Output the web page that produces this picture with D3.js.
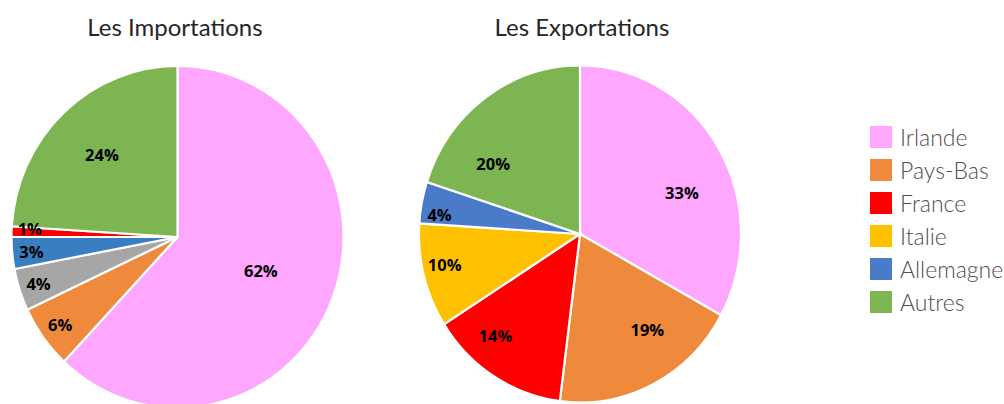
<!DOCTYPE html>
<html>
<head>
<meta charset="utf-8">
<script src="https://cdn.jsdelivr.net/npm/d3@7"></script>
<style>
  html, body { margin: 0; padding: 0; background: #fff; }
  svg { display: block; }
</style>
</head>
<body>
<svg id="chart" width="1004" height="404"></svg>
<script>
// Trade partner shares (percent)
const importCountries = ["Irlande", "Pays-Bas", "Belgique", "Allemagne", "France", "Autres"];
const importValues    = [62, 6, 4, 3, 1, 24];
const importColors    = ["#ffa6ff", "#ef8a3c", "#a6a6a6", "#3a7ec2", "#ff0000", "#7cb552"];

const exportCountries = ["Irlande", "Pays-Bas", "France", "Italie", "Allemagne", "Autres"];
const exportValues    = [33, 19, 14, 10, 4, 20];
const exportColors    = ["#ffa6ff", "#ef8a3c", "#ff0000", "#ffc000", "#4a7bc8", "#7cb552"];

const legendNames  = ["Irlande", "Pays-Bas", "France", "Italie", "Allemagne", "Autres"];
const legendColors = ["#ffa6ff", "#ef8a3c", "#ff0000", "#ffc000", "#4a7bc8", "#7cb552"];

const titles = ["Les Importations", "Les Exportations"];

const svg = d3.select("#chart");

// label distance from the centre, as a fraction of the radius, by slice share
const labelRadius = d3.scaleLinear()
  .domain([0.01, 0.10, 0.16, 0.21, 0.33, 0.62])
  .range([0.89, 0.86, 0.77, 0.66, 0.68, 0.54])
  .clamp(true);

const LABEL_GAP = 23; // minimum vertical spacing between neighbouring labels

function drawPie(cfg) {
  const { cx, cy, rx, ry, values, colors, names, title, titleX, pull } = cfg;
  const total = d3.sum(values);
  const pie = d3.pie().sort(null).value(d => d)(values);
  const arc = d3.arc().innerRadius(0).outerRadius(rx);

  // label angle: slice middle, nudged toward the horizontal
  const labelAngle = d => {
    let a = (d.startAngle + d.endAngle) / 2;
    const target = Math.sin(a) >= 0 ? Math.PI / 2 : 3 * Math.PI / 2;
    const k = Math.cos(a) > 0 ? pull : pull / 2;
    return a + k * (target - a);
  };

  const labels = pie.map(d => {
    const a = labelAngle(d), r = labelRadius(d.value / total);
    return { d, x: cx + r * rx * Math.sin(a), y: cy - r * ry * Math.cos(a) };
  });

  // keep neighbouring labels apart: the smaller slice's label gives way
  for (let i = 0; i < labels.length; i++) {
    const a = labels[i], b = labels[(i + 1) % labels.length];
    if (Math.abs(a.x - b.x) < 30 && Math.abs(a.y - b.y) < LABEL_GAP) {
      const [small, big] = a.d.value < b.d.value ? [a, b] : [b, a];
      small.y = big.y + (small.y < big.y ? -LABEL_GAP : LABEL_GAP);
    }
  }

  const g = svg.append("g")
    .attr("transform", `translate(${cx},${cy}) scale(1,${ry / rx})`);

  g.selectAll("path")
    .data(pie)
    .join("path")
    .attr("d", arc)
    .attr("fill", (d, i) => colors[i])
    .attr("stroke", "#fff")
    .attr("stroke-width", 2.2)
    .attr("vector-effect", "non-scaling-stroke")
    .append("title").text((d, i) => `${names[i]} : ${values[i]}%`);

  svg.append("g").selectAll("text")
    .data(labels)
    .join("text")
    .attr("x", l => l.x)
    .attr("y", l => l.y)
    .attr("text-anchor", "middle")
    .attr("dominant-baseline", "central")
    .attr("font-family", "'Open Sans', 'Liberation Sans', sans-serif")
    .attr("font-weight", 700)
    .attr("font-size", 16.5)
    .attr("fill", "#000")
    .text(l => `${l.d.value}%`);

  svg.append("text")
    .attr("x", titleX)
    .attr("y", 36)
    .attr("text-anchor", "middle")
    .attr("font-family", "Lato, 'Open Sans', sans-serif")
    .attr("font-size", 24)
    .attr("fill", "#262626")
    .text(title);
}

drawPie({
  cx: 177.5, cy: 237, rx: 166, ry: 171,
  values: importValues, colors: importColors, names: importCountries,
  title: titles[0], titleX: 175, pull: 0
});

drawPie({
  cx: 580, cy: 234, rx: 161, ry: 168.5,
  values: exportValues, colors: exportColors, names: exportCountries,
  title: titles[1], titleX: 582, pull: 0.3
});

// Legend
const legend = svg.append("g").attr("transform", "translate(870,126)");
const rows = legend.selectAll("g")
  .data(legendNames)
  .join("g")
  .attr("transform", (d, i) => `translate(0,${i * 33})`);

rows.append("rect")
  .attr("width", 22)
  .attr("height", 22)
  .attr("fill", (d, i) => legendColors[i]);

rows.append("text")
  .attr("x", 30)
  .attr("y", 11)
  .attr("dominant-baseline", "central")
  .attr("font-family", "Lato, 'Open Sans', sans-serif")
  .attr("font-weight", 300)
  .attr("font-size", 23)
  .attr("fill", "#505050")
  .text(d => d);
</script>
</body>
</html>
